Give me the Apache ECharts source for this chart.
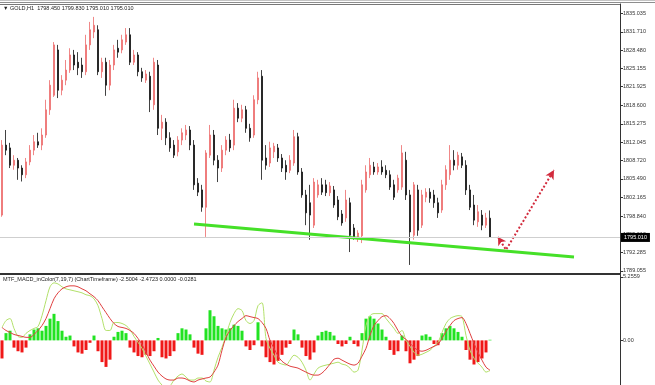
<!DOCTYPE html>
<html><head><meta charset="utf-8">
<script src="https://cdn.jsdelivr.net/npm/echarts@6/dist/echarts.min.js"></script>
<style>html,body{margin:0;padding:0;background:#fff}#c{width:655px;height:385px}</style>
</head><body><div id="c"></div>
<script>
// ---- DATA (GOLD H1) ----
const opens = [1799.0,1811.5,1811.0,1807.9,1808.8,1807.4,1806.2,1808.5,1810.6,1812.1,
 1811.5,1813.3,1817.8,1820.4,1828.5,1821.3,1823.1,1824.9,1827.6,1826.3,
 1825.8,1824.6,1829.4,1831.7,1832.1,1824.6,1826.3,1822.2,1825.8,1828.8,
 1828.5,1829.9,1831.2,1826.3,1827.6,1824.6,1823.1,1823.8,1818.7,1825.8,
 1814.5,1815.6,1812.8,1811.5,1810.3,1812.4,1813.3,1814.2,1811.5,1804.7,
 1803.5,1800.4,1809.7,1813.3,1808.8,1807.4,1810.6,1812.4,1811.5,1818.1,
 1816.3,1817.8,1814.5,1813.3,1819.6,1823.8,1809.2,1808.3,1810.3,1811.0,
 1809.2,1807.9,1807.0,1808.3,1813.0,1806.7,1802.6,1801.2,1797.2,1802.6,
 1804.4,1804.4,1803.0,1803.5,1801.7,1799.2,1798.5,1801.2,1796.7,1794.9,
 1795.3,1803.5,1806.2,1807.6,1806.7,1807.6,1807.0,1806.2,1804.4,1803.5,
 1804.0,1808.8,1802.6,1795.4,1803.5,1797.2,1802.2,1803.1,1802.6,1801.2,
 1799.9,1804.4,1806.2,1808.8,1807.9,1809.4,1807.9,1803.5,1800.8,1797.8,
 1799.0,1797.2,1798.45];
const closes = [1811.5,1810.6,1807.9,1808.8,1807.4,1806.2,1808.5,1810.6,1812.1,1811.5,
 1813.3,1817.8,1822.2,1829.4,1821.3,1823.1,1824.9,1827.6,1825.8,1825.3,
 1824.6,1829.4,1832.1,1832.9,1824.6,1826.3,1822.2,1825.8,1828.5,1828.1,
 1830.3,1831.2,1826.3,1827.6,1824.6,1823.5,1824.2,1819.6,1826.3,1814.5,
 1815.6,1812.8,1811.0,1809.7,1812.4,1813.7,1814.2,1811.5,1804.4,1803.1,
 1800.4,1810.1,1813.3,1808.8,1807.4,1810.6,1812.4,1811.0,1818.1,1816.3,
 1817.8,1814.5,1812.8,1819.6,1823.5,1808.8,1807.9,1811.0,1811.3,1809.2,
 1807.4,1806.7,1808.8,1813.0,1806.7,1802.6,1799.4,1799.0,1804.9,1804.4,
 1803.1,1803.0,1804.2,1800.8,1798.7,1797.6,1801.7,1795.4,1795.1,1795.8,
 1804.4,1806.7,1807.9,1806.7,1807.6,1806.7,1806.2,1804.0,1802.2,1805.6,
 1810.1,1802.6,1796.0,1804.4,1796.3,1802.6,1803.1,1802.0,1801.2,1799.4,
 1804.4,1807.1,1808.8,1807.9,1809.7,1807.9,1803.5,1800.4,1798.1,1799.6,
 1797.2,1798.5,1795.01];
const lows = [1798.7,1809.7,1807.4,1807.1,1805.3,1805.0,1805.6,1807.9,1809.7,1811.0,
 1810.6,1812.8,1816.9,1820.1,1819.9,1820.4,1822.2,1824.4,1824.9,1824.0,
 1823.5,1824.0,1828.5,1830.6,1824.0,1823.5,1820.3,1821.3,1824.9,1827.1,
 1827.9,1829.4,1825.8,1825.8,1823.8,1822.8,1822.6,1817.4,1817.8,1813.3,
 1812.4,1811.5,1810.3,1809.2,1809.5,1811.5,1812.4,1810.6,1803.5,1802.4,
 1799.6,1795.1,1809.2,1807.9,1804.9,1806.7,1809.7,1810.3,1810.6,1815.6,
 1815.6,1813.7,1812.1,1812.8,1818.8,1805.3,1807.1,1807.6,1809.2,1808.5,
 1806.7,1805.3,1806.5,1807.8,1806.2,1802.1,1797.2,1794.6,1796.7,1802.1,
 1802.6,1802.4,1802.4,1800.3,1798.1,1797.1,1797.8,1792.4,1794.6,1794.2,
 1794.0,1803.0,1805.6,1806.2,1806.2,1806.2,1805.6,1803.5,1801.7,1803.0,
 1803.5,1801.7,1790.1,1794.6,1795.3,1796.7,1801.3,1801.2,1800.3,1798.5,
 1799.4,1803.5,1805.3,1807.0,1807.1,1807.4,1802.6,1799.9,1797.2,1796.9,
 1796.3,1796.7,1795.01];
const highs = [1812.4,1814.2,1811.9,1809.7,1809.2,1807.9,1809.2,1811.5,1813.3,1813.7,
 1814.5,1819.6,1823.1,1829.9,1829.4,1824.0,1826.7,1828.8,1828.5,1828.1,
 1827.1,1831.2,1833.5,1834.4,1832.9,1827.1,1827.1,1826.7,1829.4,1830.3,
 1831.2,1832.4,1832.4,1828.5,1828.1,1825.3,1824.9,1824.6,1827.1,1826.7,
 1816.9,1816.3,1813.8,1812.4,1813.1,1814.5,1815.1,1814.9,1812.4,1805.6,
 1804.4,1810.6,1815.1,1814.2,1809.7,1811.5,1813.1,1813.5,1819.6,1819.0,
 1818.7,1818.5,1815.3,1820.4,1824.6,1824.9,1811.5,1812.1,1811.9,1811.7,
 1809.9,1808.8,1809.7,1814.2,1813.7,1807.4,1803.5,1804.4,1805.6,1805.3,
 1805.6,1805.3,1804.9,1804.2,1802.4,1799.9,1803.5,1802.1,1797.4,1796.3,
 1805.3,1807.9,1809.2,1808.5,1808.3,1808.8,1807.9,1807.0,1805.3,1806.2,
 1811.5,1810.3,1803.5,1804.9,1804.4,1803.5,1803.8,1803.8,1803.5,1802.1,
 1805.3,1807.9,1811.5,1810.6,1810.3,1810.1,1808.8,1804.4,1802.6,1800.8,
 1799.9,1799.4,1799.83];
const macdHistogram = [-1.5,0.6,0.8,-0.6,-0.9,-1.0,-0.6,0.5,0.9,1.0,
 0.8,1.2,1.8,2.2,1.6,0.8,0.3,0.4,-0.5,-1.0,
 -1.1,-0.8,-0.2,0.4,-0.9,-1.8,-2.2,-1.6,0.3,0.7,
 0.8,0.6,-0.6,-1.0,-1.3,-1.4,-1.2,-1.3,-0.9,0.2,
 -1.4,-1.5,-1.3,-0.9,0.6,1.0,0.9,0.5,-0.6,-1.1,
 -1.2,1.0,2.5,2.0,1.2,1.0,0.9,1.0,1.3,1.2,
 0.8,-0.5,-0.8,-0.4,1.5,-0.5,-1.4,-1.8,-2.0,-1.7,
 -1.2,-0.6,-0.3,0.9,0.5,-0.6,-1.3,-1.6,-1.0,0.4,
 0.7,0.8,0.7,0.4,-0.3,-0.5,-0.3,0.3,-0.3,-0.5,
 0.6,1.8,2.0,1.8,1.4,0.9,0.3,-0.8,-1.2,-0.9,
 0.4,-0.9,-1.9,-1.6,-1.3,0.4,0.5,0.3,-0.3,-0.4,
 0.6,1.0,1.2,1.0,0.7,0.3,-0.8,-1.6,-2.0,-1.8,
 -1.5,-1.0,0.05];
const macdMain = [1.07,1.64,1.81,0.99,0.33,0.25,0.58,0.82,0.99,1.15,
 2.05,3.29,4.44,4.77,4.68,4.44,4.27,4.19,4.11,4.03,
 3.94,3.78,3.70,3.45,2.88,1.81,0.82,0.82,1.48,1.48,
 1.40,1.23,0.90,0.33,-0.16,-0.66,-1.31,-1.97,-2.63,-3.29,
 -3.70,-3.94,-3.78,-3.29,-2.96,-2.79,-3.04,-3.29,-3.29,-3.12,
 -3.12,-3.37,-3.45,-2.47,-1.40,-0.58,0.41,1.48,2.22,2.63,
 2.47,1.64,1.40,1.64,2.88,3.12,0.16,-0.66,-1.23,-1.81,
 -1.97,-2.05,-1.64,-1.23,-1.40,-1.81,-2.47,-3.29,-2.79,-2.30,
 -2.14,-2.05,-1.97,-1.89,-1.81,-1.97,-2.05,-2.30,-2.63,-2.47,
 -0.82,1.23,2.05,2.22,2.22,2.22,1.81,1.40,0.99,0.58,
 0.82,0.00,-0.49,-0.99,-1.23,-1.15,-0.99,-0.82,-0.49,-0.16,
 0.66,1.40,1.81,1.97,2.05,1.97,0.41,-0.82,-1.48,-1.89,
 -2.22,-2.63,-2.50];
const macdSignal = [1.07,0.82,0.66,0.49,0.41,0.33,0.25,0.25,0.49,0.82,
 1.23,1.81,2.63,3.45,3.94,4.27,4.44,4.52,4.52,4.44,
 4.27,4.11,3.86,3.62,3.29,2.79,2.30,1.81,1.40,1.15,
 1.07,0.99,0.82,0.58,0.16,-0.33,-0.99,-1.64,-2.14,-2.63,
 -2.96,-3.20,-3.29,-3.29,-3.12,-3.12,-3.20,-3.37,-3.45,-3.29,
 -3.20,-3.12,-3.04,-2.63,-2.05,-0.82,0.25,0.82,1.23,1.56,
 1.81,2.05,1.97,1.89,1.81,1.48,0.99,0.00,-0.66,-1.31,
 -1.73,-1.97,-2.14,-2.22,-2.30,-2.47,-2.63,-2.79,-2.88,-2.88,
 -2.71,-2.38,-1.97,-1.56,-1.48,-1.64,-1.81,-1.97,-2.05,-1.89,
 -1.31,-0.66,0.41,1.23,1.64,1.97,2.05,1.81,1.40,0.82,
 0.33,0.08,-0.25,-0.58,-0.82,-0.90,-0.82,-0.66,-0.49,-0.33,
 0.16,0.74,1.23,1.64,1.81,1.89,1.40,0.58,-0.25,-0.99,
 -1.64,-2.22,-2.47];
const priceTickLabels = ['1835.035','1831.710','1828.480','1825.155','1821.925','1818.600','1815.275',
 '1812.045','1808.720','1805.490','1802.165','1798.840','1795.610','1792.285','1789.055'];
const macdTickLabels = ['5.2559','0.00'];
const lastPrice = 1795.010;
const trendLine = [[48,1797.4],[143,1791.5]];          // [bar index, price]
const forecastPath = [[124,1795.1],[126,1792.8],[138,1807.05]];
const totalSlots = 155;
const macdLabelValues = [-2.5004,-2.4723,0.0000,-0.0281];

// ---- BUILD ----
const categories = Array.from({length: totalSlots}, (_, i) => 'H' + i);
const candles = opens.map((o, i) => [o, closes[i], lows[i], highs[i]]);
const priceTickVals = priceTickLabels.map(Number);
const macdTickVals = macdTickLabels.map(Number);
const n = opens.length - 1;
const titleText = '\u25BC GOLD,H1  ' + opens[n].toFixed(3) + ' ' + highs[n].toFixed(3) + ' ' +
  lows[n].toFixed(3) + ' ' + closes[n].toFixed(3);
const macdTitle = 'MTF_MACD_inColor(7,19,7) (ChartTimeframe) ' +
  macdLabelValues.map(v => v.toFixed(4)).join(' ');
const FONT = 'Liberation Sans';
const FS = 5.5;

const chart = echarts.init(document.getElementById('c'), null, {renderer: 'canvas'});
chart.setOption({
  animation: false,
  backgroundColor: '#fff',
  textStyle: {fontFamily: FONT},
  title: [
    {text: titleText, left: 3, top: 5, padding: 0,
     textStyle: {fontSize: FS, fontWeight: 'normal', color: '#222', fontFamily: FONT}},
    {text: macdTitle, left: 3, top: 276, padding: 0,
     textStyle: {fontSize: FS, fontWeight: 'normal', color: '#222', fontFamily: FONT}}
  ],
  graphic: [
    {type: 'rect', shape: {x: 0, y: 0, width: 655, height: 1}, style: {fill: '#c4c4c4'}, silent: true},
    {type: 'rect', shape: {x: 0, y: 2, width: 655, height: 1}, style: {fill: '#8e8e8e'}, silent: true},
    {type: 'rect', shape: {x: 0, y: 4, width: 620, height: 1}, style: {fill: '#777'}, silent: true}
  ],
  grid: [
    {left: 0, top: 4, width: 620, height: 270},
    {left: 0, top: 275, width: 620, height: 110}
  ],
  xAxis: [
    {type: 'category', gridIndex: 0, data: categories, boundaryGap: true,
     axisLine: {show: true, lineStyle: {color: '#333', width: 2}},
     axisTick: {show: false}, axisLabel: {show: false}, splitLine: {show: false}},
    {type: 'category', gridIndex: 1, data: categories, boundaryGap: true,
     axisLine: {show: false}, axisTick: {show: false}, axisLabel: {show: false}, splitLine: {show: false}}
  ],
  yAxis: [
    {type: 'value', gridIndex: 0, position: 'right', min: 1788.48, max: 1836.70,
     axisLine: {show: true, lineStyle: {color: '#333', width: 1}},
     axisTick: {show: true, length: 3, customValues: priceTickVals, lineStyle: {color: '#333'}},
     axisLabel: {show: true, customValues: priceTickVals, margin: 3, fontSize: FS, color: '#333',
       fontFamily: FONT, formatter: v => v.toFixed(3)},
     splitLine: {show: false}},
    {type: 'value', gridIndex: 1, position: 'right', min: -3.70, max: 5.42,
     axisLine: {show: true, lineStyle: {color: '#333', width: 1}},
     axisTick: {show: true, length: 3, customValues: macdTickVals, lineStyle: {color: '#333'}},
     axisLabel: {show: true, customValues: macdTickVals, margin: 3, fontSize: FS, color: '#333',
       fontFamily: FONT, formatter: v => macdTickLabels[macdTickVals.indexOf(v)] || ''},
     splitLine: {show: false}}
  ],
  series: [
    {type: 'candlestick', xAxisIndex: 0, yAxisIndex: 0, data: candles, barWidth: 2,
     itemStyle: {color: '#f59090', color0: '#111', borderColor: '#ec6a6a', borderColor0: '#111', borderWidth: 0.8},
     markLine: {silent: true, symbol: 'none', z: 10,
       data: [{yAxis: lastPrice}],
       lineStyle: {color: '#cfcfcf', width: 1, type: 'solid'},
       label: {show: true, position: 'end', distance: 1, formatter: lastPrice.toFixed(3),
         backgroundColor: '#000', color: '#fff', fontSize: FS, fontFamily: FONT, padding: [2, 3, 1, 3]}}},
    {type: 'line', xAxisIndex: 0, yAxisIndex: 0, data: trendLine, symbol: 'none',
     lineStyle: {color: '#45e028', width: 3}, z: 5},
    {type: 'line', xAxisIndex: 0, yAxisIndex: 0, z: 6,
     data: [
       {value: forecastPath[0], symbol: 'arrow', symbolSize: [7, 8], symbolRotate: 32},
       {value: forecastPath[1], symbol: 'none'},
       {value: forecastPath[2], symbol: 'arrow', symbolSize: [7, 9], symbolRotate: -30}
     ],
     showSymbol: true, showAllSymbol: true,
     itemStyle: {color: '#d22a3c'},
     lineStyle: {color: '#d22a3c', width: 2, type: [2, 2]}},
    {type: 'bar', xAxisIndex: 1, yAxisIndex: 1, barWidth: 3,
     data: macdHistogram.map(v => ({value: v, itemStyle: {color: v >= 0 ? '#22e322' : '#f01818'}}))},
    {type: 'line', xAxisIndex: 1, yAxisIndex: 1, data: macdMain, symbol: 'none', smooth: 0.3,
     lineStyle: {color: '#b2e06a', width: 1}},
    {type: 'line', xAxisIndex: 1, yAxisIndex: 1, data: macdSignal, symbol: 'none', smooth: 0.3,
     lineStyle: {color: '#e04040', width: 1}}
  ]
});
</script>
</body></html>
